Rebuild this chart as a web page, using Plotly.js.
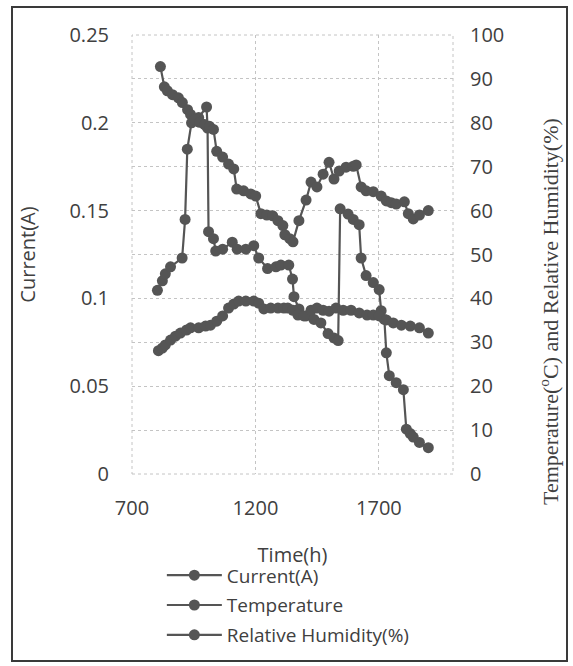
<!DOCTYPE html>
<html>
<head>
<meta charset="utf-8">
<script src="https://cdn.plot.ly/plotly-3.0.1.min.js"></script>
<style>
  html, body { margin: 0; padding: 0; background: #ffffff; }
  #chart { width: 573px; height: 666px; position: absolute; left: 0; top: 0; }
  #frame { position: absolute; left: 11px; top: 6px; width: 553px; height: 652px;
           border: 2px solid #3a3a3a; pointer-events: none; z-index: 10; }
</style>
</head>
<body>
<div id="chart"></div>
<div id="frame"></div>
<script>
// ---- data ----
const timeCurrent = [803,823,835,856,903,915,924,941,970,1002,1006,1010,1030,1039,1067,1106,1126,1161,1193,1213,1249,1283,1303,1335,1350,1356,1376,1405,1437,1465,1494,1518,1535,1543,1575,1596,1620,1628,1648,1677,1701,1709,1722,1730,1742,1770,1799,1811,1827,1839,1864,1900];
const current = [0.1046,0.110,0.114,0.118,0.123,0.145,0.185,0.200,0.203,0.209,0.197,0.138,0.134,0.127,0.128,0.132,0.128,0.128,0.130,0.123,0.117,0.118,0.119,0.119,0.111,0.101,0.094,0.090,0.088,0.086,0.080,0.0775,0.076,0.151,0.148,0.145,0.142,0.123,0.113,0.109,0.105,0.093,0.088,0.069,0.056,0.052,0.048,0.0255,0.023,0.021,0.018,0.015];

const timeTemp = [807,823,835,856,876,896,921,937,970,998,1018,1043,1067,1091,1112,1132,1161,1193,1213,1234,1262,1291,1315,1331,1352,1372,1396,1425,1449,1474,1498,1526,1555,1587,1620,1652,1677,1701,1730,1758,1791,1827,1864,1900];
const temperature = [28.1,28.7,29.4,30.5,31.4,32.1,32.8,33.3,33.3,33.7,33.9,34.8,36.0,37.8,38.7,39.4,39.4,39.4,38.9,37.6,37.8,37.8,37.8,37.8,37.3,36.2,36.0,37.3,37.8,37.3,37.1,37.8,37.3,37.3,36.7,36.2,36.2,36.0,35.1,34.4,33.9,33.7,33.3,32.1];

const timeRH = [815,831,843,864,888,904,925,937,953,974,994,1014,1030,1043,1067,1091,1112,1124,1152,1181,1201,1222,1246,1270,1291,1311,1319,1339,1352,1376,1405,1425,1449,1474,1498,1518,1539,1567,1596,1608,1628,1648,1677,1709,1730,1750,1770,1803,1819,1839,1864,1900];
const humidity = [92.8,88.2,87.3,86.4,85.7,84.6,83.0,81.9,80.8,80.1,79.6,79.2,78.5,73.5,72.2,70.6,69.5,64.9,64.5,63.8,63.3,59.3,59.0,58.8,57.7,56.6,54.5,53.6,52.9,57.7,62.4,66.5,65.4,68.3,71.0,67.2,69.0,69.9,70.1,70.4,65.4,64.5,64.3,63.3,62.2,61.8,61.5,62.0,59.3,58.1,59.0,60.0];

const seriesNames = ["Current(A)", "Temperature", "Relative Humidity(%)"];
const xTicks = [700, 1200, 1700];
const yLeftTicks = [0, 0.05, 0.1, 0.15, 0.2, 0.25];
const yLeftTickText = ["0", "0.05", "0.1", "0.15", "0.2", "0.25"];
const yRightTicks = [0,10,20,30,40,50,60,70,80,90,100];

// ---- styling ----
const ink = "#555555";
const textCol = "#404040";
const sans = "Open Sans, sans-serif";
const serif = "Liberation Serif, serif";
const gridCol = "#c4c4c4";

function series(x, y, name, axis, legendId) {
  return {
    x: x, y: y, name: name, yaxis: axis, legend: legendId,
    type: "scatter", mode: "lines+markers",
    line: { color: ink, width: 2.2 },
    marker: { color: ink, size: 11, symbol: "circle" }
  };
}

const traces = [
  series(timeCurrent, current, seriesNames[0], "y", "legend"),
  series(timeTemp, temperature, seriesNames[1], "y2", "legend2"),
  series(timeRH, humidity, seriesNames[2], "y2", "legend3")
];

function legendAt(yPaper) {
  return {
    x: 0.093, xanchor: "left", y: yPaper, yanchor: "bottom",
    font: { family: sans, size: 19, color: textCol },
    bgcolor: "rgba(0,0,0,0)", itemwidth: 55
  };
}

const layout = {
  width: 573, height: 666,
  margin: { l: 132, r: 120, t: 35, b: 189 },
  paper_bgcolor: "#ffffff", plot_bgcolor: "#ffffff",
  font: { family: sans, color: textCol, size: 19 },
  showlegend: true,
  legend: legendAt(-0.274),
  legend2: legendAt(-0.342),
  legend3: legendAt(-0.41),
  xaxis: {
    range: [700, 2000], tickvals: xTicks, ticktext: xTicks.map(String),
    showgrid: true, gridcolor: gridCol, griddash: "dot", gridwidth: 1,
    zeroline: false, showline: false, ticks: "", automargin: false,
    ticklabelstandoff: 20,
    tickfont: { family: sans, size: 20, color: textCol },
    title: { text: "Time(h)", font: { family: sans, size: 20, color: textCol }, standoff: 27 }
  },
  yaxis: {
    range: [0, 0.25], tickvals: yLeftTicks, ticktext: yLeftTickText,
    showgrid: false, zeroline: false, showline: false, ticks: "", automargin: false,
    ticklabelstandoff: 22,
    tickfont: { family: sans, size: 20, color: textCol },
    title: { text: "Current(A)", font: { family: sans, size: 20, color: textCol }, standoff: 28 }
  },
  yaxis2: {
    range: [0, 100], tickvals: yRightTicks, overlaying: "y", side: "right",
    showgrid: true, gridcolor: gridCol, griddash: "dot", gridwidth: 1,
    zeroline: false, showline: false, ticks: "", automargin: false,
    ticklabelstandoff: 16,
    tickfont: { family: sans, size: 20, color: textCol }
  },
  shapes: [{
    type: "rect", xref: "paper", yref: "paper", x0: 0, x1: 1, y0: 0, y1: 1,
    line: { color: gridCol, width: 1, dash: "dot" }, layer: "below"
  }],
  annotations: [{
    text: "Temperature(<sup>o</sup>C) and Relative Humidity(%)",
    xref: "paper", yref: "paper", x: 1.297, y: 0.37, xanchor: "center", yanchor: "middle",
    textangle: -90, showarrow: false,
    font: { family: serif, size: 22, color: textCol }
  }]
};

Plotly.newPlot("chart", traces, layout, { displayModeBar: false, staticPlot: true });
</script>
</body>
</html>
